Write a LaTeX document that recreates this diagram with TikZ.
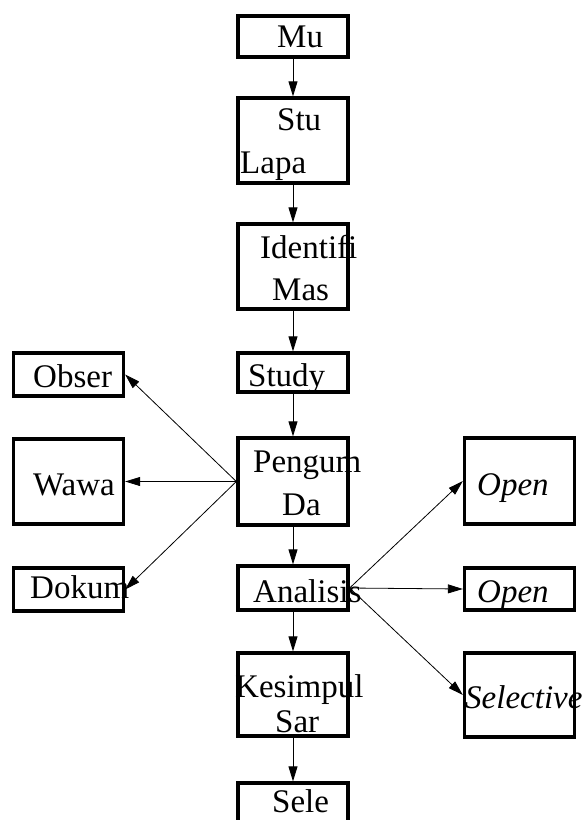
\documentclass[tikz,border=0pt]{standalone}
\usepackage{fontspec}
\setmainfont{Liberation Serif}
\usetikzlibrary{arrows.meta}

\begin{document}
\begin{tikzpicture}[x=1pt,y=-1pt]
    \tikzset{kotak/.style={draw,line width=3.3pt,minimum width=110pt,inner sep=0pt}}
    \tikzset{teks/.style={anchor=base west,inner sep=0pt,font=\fontsize{33}{38}\selectfont}}
    \tikzset{panah/.style={-{Triangle[length=15pt,width=9pt]},line width=0.8pt}}
    \useasboundingbox (0,0) rectangle (582,820);
    \node[kotak,minimum height=41pt] (mu) at (293,36.5) {};
    \node[kotak,minimum height=85pt] (stu) at (293,140.5) {};
    \node[kotak,minimum height=85pt] (idf) at (293,266.5) {};
    \node[kotak,minimum height=39pt] (study) at (293,372.5) {};
    \node[kotak,minimum height=87pt] (pengum) at (293,481.5) {};
    \node[kotak,minimum height=44pt] (analisis) at (293,588) {};
    \node[kotak,minimum height=83pt] (kesimpul) at (293,694.5) {};
    \node[kotak,minimum height=42pt] (sele) at (293,804) {};
    \node[kotak,minimum height=43pt] (obser) at (68.5,374.5) {};
    \node[kotak,minimum height=85pt] (wawa) at (68.5,481.5) {};
    \node[kotak,minimum height=43pt] (dokum) at (68.5,589.5) {};
    \node[kotak,minimum height=86pt] (open1) at (519.5,481) {};
    \node[kotak,minimum height=42pt] (open2) at (519.5,589) {};
    \node[kotak,minimum height=84pt] (selective) at (519.5,695) {};
    \node[teks] (t-mu) at (277,47) {Mu};
    \node[teks] (t-stu) at (277,130) {Stu};
    \node[teks] (t-lapa) at (240,173) {Lapa};
    \node[teks] (t-idf) at (260,258) {Identifi};
    \node[teks] (t-mas) at (272,300) {Mas};
    \node[teks] (t-study) at (248,386) {Study};
    \node[teks] (t-pengum) at (253,472) {Pengum};
    \node[teks] (t-da) at (282,515) {Da};
    \node[teks] (t-analisis) at (253,602) {Analisis};
    \node[teks] (t-kesimpul) at (235,697) {Kesimpul};
    \node[teks] (t-sar) at (275,732) {Sar};
    \node[teks] (t-sele) at (272,812) {Sele};
    \node[teks] (t-obser) at (33,387) {Obser};
    \node[teks] (t-wawa) at (33,495) {Wawa};
    \node[teks] (t-dokum) at (30,598) {Dokum};
    \node[teks] (t-open1) at (477,495) {\itshape Open};
    \node[teks] (t-open2) at (477,602) {\itshape Open};
    \node[teks] (t-selective) at (465,708) {\itshape Selective};
    \draw[panah] (mu) -- (stu);
    \draw[panah] (stu) -- (idf);
    \draw[panah] (idf) -- (study);
    \draw[panah] (study) -- (pengum);
    \draw[panah] (pengum) -- (analisis);
    \draw[panah] (analisis) -- (kesimpul);
    \draw[panah] (kesimpul) -- (sele);
    \draw[panah] (pengum.west) -- (obser.east);
    \draw[panah] (pengum.west) -- (wawa.east);
    \draw[panah] (pengum.west) -- (dokum.east);
    \draw[panah] (analisis.east) -- (open1.west);
    \draw[panah] (analisis.east) -- (open2.west);
    \draw[panah] (analisis.east) -- (selective.west);
\end{tikzpicture}
\end{document}
